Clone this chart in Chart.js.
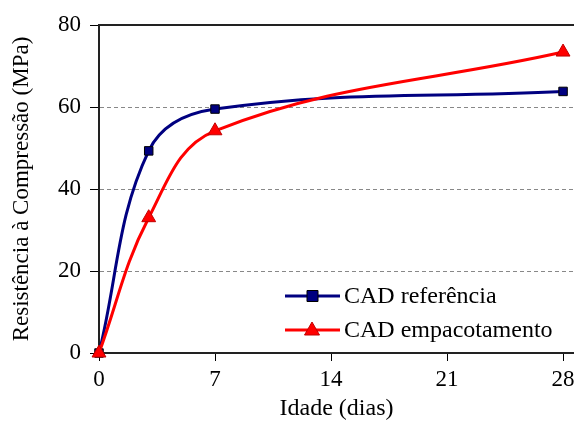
<!DOCTYPE html>
<html>
<head>
<meta charset="utf-8">
<script src="https://cdn.jsdelivr.net/npm/chart.js@4"></script>
<style>
  html, body { margin: 0; padding: 0; background: #fff; }
  #wrap { width: 574px; height: 427px; }
</style>
</head>
<body>
<div id="wrap"><canvas id="chart" width="574" height="427"></canvas></div>
<script>
const idade = [0, 3, 7, 28];
const cadReferencia = [0, 49.3, 59.5, 63.8];
const cadEmpacotamento = [0, 33, 54.2, 73.4];
const xTicks = [0, 7, 14, 21, 28];
const yTicks = [0, 20, 40, 60, 80];
const serieLabels = ['CAD referência', 'CAD empacotamento'];

const FONT = 'Liberation Serif, Times New Roman, serif';

const toPoints = (xs, ys) => xs.map((x, i) => ({ x: x, y: ys[i] }));

// the plot runs to the right edge of the picture
const fullRight = {
  id: 'fullRight',
  afterLayout(chart) {
    const sx = chart.scales.x;
    chart.chartArea.right = chart.width;
    chart.chartArea.width = chart.width - chart.chartArea.left;
    sx.right = chart.width;
    sx.width = sx.right - sx.left;
    sx.configure();
  }
};

// legend drawn inside the plot, bottom right
const insideLegend = {
  id: 'insideLegend',
  afterDatasetsDraw(chart) {
    const ctx = chart.ctx;
    const rows = [296, 330];
    chart.data.datasets.forEach((ds, i) => {
      const y = rows[i];
      ctx.save();
      ctx.strokeStyle = ds.borderColor;
      ctx.lineWidth = 3;
      ctx.beginPath();
      ctx.moveTo(285, y);
      ctx.lineTo(340, y);
      ctx.stroke();
      ctx.fillStyle = ds.pointBackgroundColor;
      ctx.strokeStyle = ds.pointBorderColor;
      ctx.lineWidth = 1;
      ctx.beginPath();
      if (ds.pointStyle === 'rect') {
        ctx.rect(307, y - 5.5, 11, 11);
      } else {
        ctx.moveTo(312, y - 8);
        ctx.lineTo(319.5, y + 5);
        ctx.lineTo(304.5, y + 5);
        ctx.closePath();
      }
      ctx.fill();
      ctx.stroke();
      ctx.fillStyle = '#000';
      ctx.font = '24px ' + FONT;
      ctx.textBaseline = 'middle';
      ctx.fillText(ds.label, 344, y + 1);
      ctx.restore();
    });
  }
};

// solid frame line at the top of the plot
const topFrame = {
  id: 'topFrame',
  beforeDatasetsDraw(chart) {
    const { ctx, chartArea } = chart;
    ctx.save();
    ctx.strokeStyle = '#222';
    ctx.lineWidth = 2;
    ctx.beginPath();
    ctx.moveTo(chartArea.left, chartArea.top);
    ctx.lineTo(chartArea.right, chartArea.top);
    ctx.stroke();
    ctx.restore();
  }
};

new Chart(document.getElementById('chart'), {
  type: 'line',
  data: {
    datasets: [
      {
        label: serieLabels[0],
        data: toPoints(idade, cadReferencia),
        borderColor: '#000080',
        borderWidth: 3,
        pointStyle: 'rect',
        pointRadius: 6,
        pointBackgroundColor: '#000080',
        pointBorderColor: '#000',
        pointBorderWidth: 1,
        tension: 0.38,
        clip: false,
        order: 1
      },
      {
        label: serieLabels[1],
        data: toPoints(idade, cadEmpacotamento),
        borderColor: '#ff0000',
        borderWidth: 3,
        pointStyle: 'triangle',
        pointRadius: 8,
        pointBackgroundColor: '#ff0000',
        pointBorderColor: '#c00000',
        pointBorderWidth: 1,
        tension: 0.38,
        clip: false,
        order: 0
      }
    ]
  },
  options: {
    responsive: false,
    animation: false,
    devicePixelRatio: 1,
    layout: { padding: { top: 25, right: 0, left: 0, bottom: 0 } },
    plugins: {
      legend: { display: false },
      tooltip: { enabled: false }
    },
    scales: {
      x: {
        type: 'linear',
        min: 0,
        max: 28.66,
        afterBuildTicks: (axis) => { axis.ticks = xTicks.map(v => ({ value: v })); },
        afterFit: (axis) => { axis.height = 74; },
        grid: { drawOnChartArea: false, tickLength: 8, tickColor: '#000', tickWidth: 1 },
        border: { color: '#222', width: 2 },
        ticks: { color: '#000', font: { family: FONT, size: 23 }, padding: 5, maxRotation: 0 },
        title: { display: true, text: 'Idade (dias)', color: '#000', font: { family: FONT, size: 24 }, padding: { top: 14 } }
      },
      y: {
        min: 0,
        max: 80,
        afterBuildTicks: (axis) => { axis.ticks = yTicks.map(v => ({ value: v })); },
        afterFit: (axis) => { axis.width = 99; },
        grid: {
          color: (c) => (c.tick && c.tick.value > 0 && c.tick.value < 80) ? '#888' : 'rgba(0,0,0,0)',
          tickColor: '#000',
          tickLength: 9,
          lineWidth: 1
        },
        border: { color: '#222', width: 2, dash: [4, 3] },
        ticks: { color: '#000', font: { family: FONT, size: 23 }, padding: 9 },
        title: { display: true, text: 'Resistência à Compressão (MPa)', color: '#000', font: { family: FONT, size: 23 }, padding: { top: 8, bottom: 4 } }
      }
    }
  },
  plugins: [fullRight, topFrame, insideLegend]
});
</script>
</body>
</html>
